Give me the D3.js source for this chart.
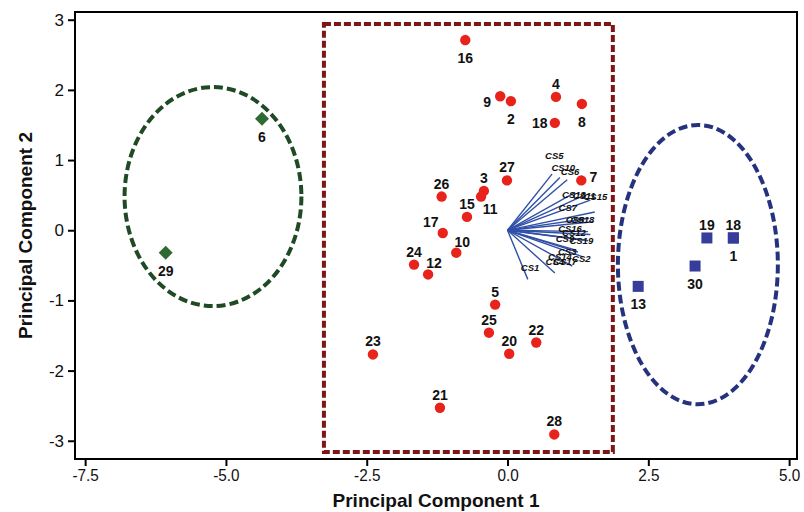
<!DOCTYPE html>
<html><head><meta charset="utf-8">
<script src="https://cdn.jsdelivr.net/npm/d3@7"></script>
<style>
html,body{margin:0;padding:0;background:#fff;}
svg{display:block;font-family:"Liberation Sans",Arial,sans-serif;}
</style></head>
<body><svg id="c" width="804" height="512"></svg>
<script>
// ---- data ----
const xTicks = [-7.5, -5.0, -2.5, 0.0, 2.5, 5.0];
const yTicks = [-3, -2, -1, 0, 1, 2, 3];
const xTitle = "Principal Component 1";
const yTitle = "Principal Component 2";

// group 1 (red circles): [label, PC1, PC2, label placement]
const redPoints = [
  ["16",-0.75,2.71,"b"],["9",-0.13,1.91,"bl"],["2",0.06,1.84,"b"],["4",0.86,1.90,"t"],
  ["8",1.32,1.80,"b"],["18",0.84,1.53,"l"],["27",-0.01,0.71,"t"],["3",-0.42,0.56,"t"],
  ["11",-0.47,0.48,"br"],["15",-0.72,0.19,"t"],["26",-1.17,0.48,"t"],["7",1.31,0.71,"r"],
  ["17",-1.15,-0.04,"tl"],["10",-0.91,-0.32,"tr"],["24",-1.66,-0.49,"t"],["12",-1.41,-0.63,"tr"],
  ["5",-0.22,-1.06,"t"],["25",-0.33,-1.46,"t"],["20",0.03,-1.76,"t"],["22",0.51,-1.60,"t"],
  ["23",-2.39,-1.77,"t"],["21",-1.20,-2.53,"t"],["28",0.83,-2.91,"t"]
];
// group 2 (blue squares)
const bluePoints = [
  ["19",3.54,-0.11,"t"],["18",4.01,-0.11,"t"],["1",4.01,-0.11,"b"],
  ["30",3.33,-0.51,"b"],["13",2.32,-0.80,"b"]
];
// group 3 (green diamonds)
const greenPoints = [["6",-4.36,1.59,"b"],["29",-6.07,-0.32,"b"]];

// loading vectors: [name, PC1, PC2]
const loadings = [
  ["CS5",0.79,0.80],["CS10",0.93,0.75],["CS6",1.06,0.72],["CS13",1.20,0.54],
  ["CS11",1.34,0.49],["CS15",1.47,0.43],["CS7",1.55,0.26],["CS8",1.45,0.17],
  ["CS18",1.52,0.12],["CS16",1.43,-0.02],["CS12",1.47,-0.06],["CS9",1.38,-0.14],
  ["CS19",1.43,-0.15],["CS3",1.25,-0.31],["CS14",1.20,-0.28],["CS2",1.34,-0.38],
  ["CS4",1.15,-0.51],["CS17",0.84,-0.61],["CS1",0.36,-0.70]
];
// loading label anchors: [name, PC1, PC2]
const loadingLabels = [
  ["CS5",0.83,1.06],["CS10",0.99,0.89],["CS6",1.11,0.83],["CS13",1.18,0.51],
  ["CS11",1.36,0.49],["CS15",1.56,0.48],["CS7",1.07,0.33],["CS8",1.20,0.15],
  ["CS18",1.33,0.15],["CS16",1.11,0.02],["CS12",1.18,-0.03],["CS9",1.02,-0.12],
  ["CS19",1.31,-0.15],["CS3",1.06,-0.30],["CS14",0.93,-0.37],["CS2",1.31,-0.40],
  ["CS4",0.84,-0.45],["CS17",1.02,-0.44],["CS1",0.40,-0.53]
];

// enclosures
const greenEllipse = {cx:-5.23, cy:0.48, rx:1.57, ry:1.56};
const blueEllipse  = {cx:3.38, cy:-0.49, rx:1.42, ry:1.99};
const redBox = {x0:-3.26, x1:1.87, y0:-3.16, y1:2.94};

// ---- drawing ----
const svg = d3.select("#c");
const L = 75, R = 797, T = 12, B = 459;
const x = d3.scaleLinear().domain([-7.68, 5.14]).range([L, R]);
const y = d3.scaleLinear().domain([-3.26, 3.11]).range([B, T]);

const off = {t:[0,-13],b:[0,18],l:[-15,0],r:[12,-3],tl:[-12,-11],tr:[6,-11],br:[9,12],bl:[-13,6]};

// enclosures
svg.append("rect")
  .attr("x", x(redBox.x0)).attr("y", y(redBox.y1))
  .attr("width", x(redBox.x1)-x(redBox.x0)).attr("height", y(redBox.y0)-y(redBox.y1))
  .attr("fill","none").attr("stroke","#7d1616").attr("stroke-width",4)
  .attr("stroke-dasharray","7,3");
function ell(e, col){
  svg.append("ellipse")
    .attr("cx", x(e.cx)).attr("cy", y(e.cy))
    .attr("rx", x(e.cx+e.rx)-x(e.cx)).attr("ry", y(e.cy)-y(e.cy+e.ry))
    .attr("fill","none").attr("stroke",col).attr("stroke-width",4)
    .attr("stroke-dasharray","9,4");
}
ell(greenEllipse, "#1f4a24");
ell(blueEllipse, "#25337f");

// loading vectors
svg.append("g").selectAll("line").data(loadings).join("line")
  .attr("x1", x(0)).attr("y1", y(0))
  .attr("x2", d=>x(d[1])).attr("y2", d=>y(d[2]))
  .attr("stroke","#3050a8").attr("stroke-width",1.4);
svg.append("g").selectAll("text").data(loadingLabels).join("text")
  .attr("x", d=>x(d[1])).attr("y", d=>y(d[2]))
  .attr("text-anchor","middle").attr("dominant-baseline","central")
  .attr("font-size",9.5).attr("font-style","italic").attr("font-weight","bold")
  .attr("fill","#111").text(d=>d[0]);

// points
function labels(data){
  svg.append("g").selectAll("text").data(data).join("text")
    .attr("x", d=>x(d[1])+off[d[3]][0]).attr("y", d=>y(d[2])+off[d[3]][1])
    .attr("text-anchor","middle").attr("dominant-baseline","central")
    .attr("font-size",14).attr("font-weight","bold").attr("fill","#111")
    .text(d=>d[0]);
}
svg.append("g").selectAll("circle").data(redPoints).join("circle")
  .attr("cx", d=>x(d[1])).attr("cy", d=>y(d[2])).attr("r",5.2).attr("fill","#e8231c");
svg.append("g").selectAll("rect").data(bluePoints).join("rect")
  .attr("x", d=>x(d[1])-5.5).attr("y", d=>y(d[2])-5.5).attr("width",11).attr("height",11)
  .attr("fill","#353c9a");
svg.append("g").selectAll("path").data(greenPoints).join("path")
  .attr("d", d=>{const cx=x(d[1]), cy=y(d[2]); return `M${cx},${cy-7}L${cx+7},${cy}L${cx},${cy+7}L${cx-7},${cy}Z`;})
  .attr("fill","#2f6a33");
labels(redPoints); labels(bluePoints); labels(greenPoints);

// frame
svg.append("rect").attr("x",L).attr("y",T).attr("width",R-L).attr("height",B-T)
  .attr("fill","none").attr("stroke","#000").attr("stroke-width",2);

// axes
const hy = s => s.replace("\u2212","-");
const xAxis = svg.append("g").attr("transform",`translate(0,${B})`)
  .call(d3.axisBottom(x).tickValues(xTicks).tickFormat(d=>hy(d3.format(".1f")(d))).tickSize(7).tickPadding(3));
const yAxis = svg.append("g").attr("transform",`translate(${L},0)`)
  .call(d3.axisLeft(y).tickValues(yTicks).tickFormat(d=>hy(d3.format("d")(d))).tickSize(7).tickPadding(4));
[xAxis,yAxis].forEach(g=>{
  g.select(".domain").remove();
  g.selectAll(".tick line").attr("stroke","#000").attr("stroke-width",2);
  g.selectAll(".tick text").attr("font-size",17).attr("fill","#111")
    .attr("font-family","'Liberation Sans',Arial,sans-serif");
});
xAxis.selectAll(".tick text").attr("transform","scale(0.9,1)");

svg.append("text").attr("x",(L+R)/2).attr("y",500)
  .attr("text-anchor","middle").attr("dominant-baseline","central")
  .attr("font-size",19).attr("font-weight","bold").attr("fill","#111").text(xTitle);
svg.append("text").attr("transform",`translate(25,${(T+B)/2}) rotate(-90)`)
  .attr("text-anchor","middle").attr("dominant-baseline","central")
  .attr("font-size",19).attr("font-weight","bold").attr("fill","#111").text(yTitle);
</script></body></html>
